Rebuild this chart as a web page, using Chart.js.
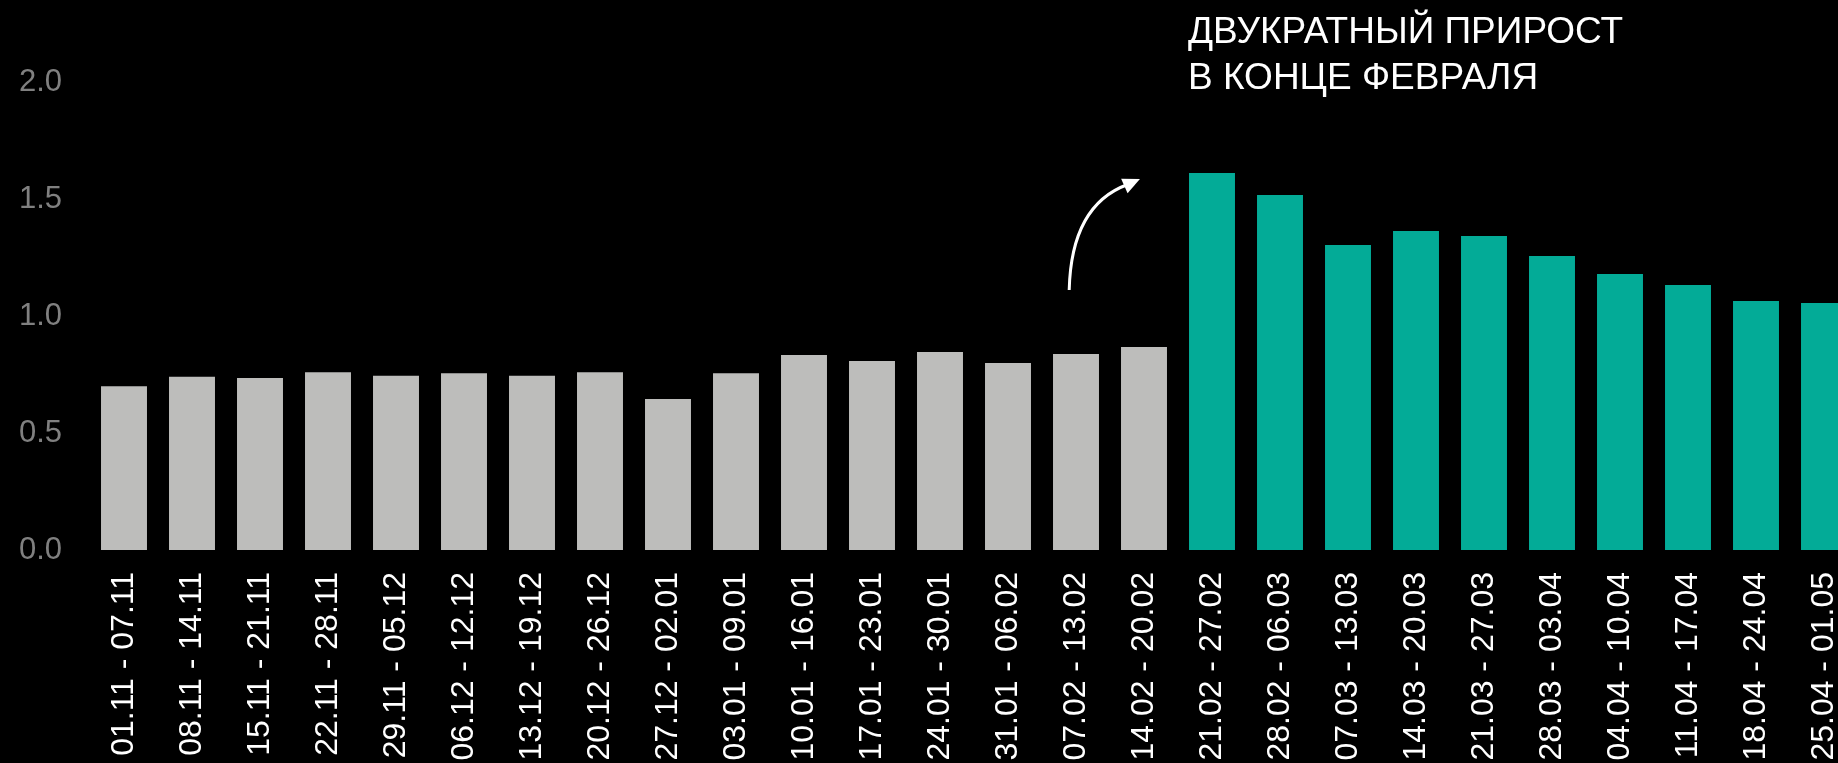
<!DOCTYPE html>
<html>
<head>
<meta charset="utf-8">
<script src="https://cdn.jsdelivr.net/npm/chart.js@4.4.1/dist/chart.umd.min.js"></script>
<style>
  html, body { margin: 0; padding: 0; background: #000; overflow: hidden; }
  #wrap { position: relative; width: 1862px; height: 763px; }
  canvas { display: block; }
</style>
</head>
<body>
<div id="wrap"><canvas id="c" width="1862" height="763" style="width:1862px;height:763px"></canvas></div>
<script>
// ---- data ----
const weeks = [
  "01.11 - 07.11","08.11 - 14.11","15.11 - 21.11","22.11 - 28.11","29.11 - 05.12",
  "06.12 - 12.12","13.12 - 19.12","20.12 - 26.12","27.12 - 02.01","03.01 - 09.01",
  "10.01 - 16.01","17.01 - 23.01","24.01 - 30.01","31.01 - 06.02","07.02 - 13.02",
  "14.02 - 20.02","21.02 - 27.02","28.02 - 06.03","07.03 - 13.03","14.03 - 20.03",
  "21.03 - 27.03","28.03 - 03.04","04.04 - 10.04","11.04 - 17.04","18.04 - 24.04",
  "25.04 - 01.05"
];
const values = [
  0.70, 0.74, 0.735, 0.76, 0.745, 0.755, 0.745, 0.76, 0.645, 0.755,
  0.833, 0.808, 0.846, 0.799, 0.838, 0.868,
  1.611, 1.517, 1.303, 1.363, 1.342, 1.256, 1.179, 1.132, 1.064, 1.056
];
const highlightFrom = 16; // first week of the surge (21.02 - 27.02)
const yTicks = [0, 0.5, 1.0, 1.5, 2.0];
const noteLines = ["ДВУКРАТНЫЙ ПРИРОСТ", "В КОНЦЕ ФЕВРАЛЯ"];

const GRAY = "#bdbdbb";
const GREEN = "#03ab97";
const FONT = "'Liberation Sans', Arial, sans-serif";

const bgPlugin = {
  id: "bg",
  beforeDraw(chart) {
    const ctx = chart.ctx;
    ctx.save();
    ctx.fillStyle = "#000";
    ctx.fillRect(0, 0, chart.width, chart.height);
    ctx.restore();
  }
};

const notePlugin = {
  id: "note",
  afterDraw(chart) {
    const ctx = chart.ctx;
    const xs = chart.scales.x, ys = chart.scales.y;
    const meta = chart.getDatasetMeta(0);
    const bar = meta.data[highlightFrom];
    const left = bar.x - bar.width / 2;
    const top = chart.chartArea.top;
    ctx.save();
    ctx.fillStyle = "#fff";
    ctx.font = "37px " + FONT;
    ctx.textAlign = "left";
    ctx.textBaseline = "alphabetic";
    ctx.fillText(noteLines[0], left - 1, top - 39);
    ctx.fillText(noteLines[1], left - 1, top + 7);

    // curved arrow (positioned in data space)
    const px = v => xs.getPixelForValue(v);
    const py = v => ys.getPixelForValue(v);
    const sx = px(13.90), sy = py(1.111);
    const cx = px(13.93), cy = py(1.474);
    const ex = px(14.76), ey = py(1.562);
    ctx.strokeStyle = "#fff";
    ctx.lineWidth = 3;
    ctx.beginPath();
    ctx.moveTo(sx, sy);
    ctx.quadraticCurveTo(cx, cy, ex, ey);
    ctx.stroke();
    // arrow head
    const tipX = px(14.94), tipY = py(1.585);
    const ang = Math.atan2(tipY - ey, tipX - ex);
    const L = 17, W = 8;
    ctx.beginPath();
    ctx.moveTo(tipX, tipY);
    ctx.lineTo(tipX - L * Math.cos(ang) + W * Math.sin(ang), tipY - L * Math.sin(ang) - W * Math.cos(ang));
    ctx.lineTo(tipX - L * Math.cos(ang) - W * Math.sin(ang), tipY - L * Math.sin(ang) + W * Math.cos(ang));
    ctx.closePath();
    ctx.fillStyle = "#fff";
    ctx.fill();
    ctx.restore();
  }
};

new Chart(document.getElementById("c"), {
  type: "bar",
  data: {
    labels: weeks,
    datasets: [{
      data: values,
      backgroundColor: values.map((v, i) => i >= highlightFrom ? GREEN : GRAY),
      borderWidth: 0,
      categoryPercentage: 1.0,
      barPercentage: 0.676
    }]
  },
  options: {
    responsive: false,
    maintainAspectRatio: false,
    animation: false,
    devicePixelRatio: 1,
    layout: { padding: { top: 82, left: 0, right: 4, bottom: 0 } },
    plugins: { legend: { display: false }, tooltip: { enabled: false } },
    scales: {
      x: {
        offset: true,
        grid: { display: false, drawTicks: false },
        border: { display: false },
        ticks: {
          color: "#ffffff",
          font: { family: FONT, size: 32 },
          autoSkip: false,
          maxRotation: 90,
          minRotation: 90,
          padding: 22
        },
        afterFit(s) { s.height = 213; s.paddingLeft = 0; s.paddingRight = 0; }
      },
      y: {
        min: 0,
        max: 2,
        afterBuildTicks(s) { s.ticks = yTicks.map(v => ({ value: v })); },
        grid: { display: false, drawTicks: false },
        border: { display: false },
        ticks: {
          color: "#808080",
          font: { family: FONT, size: 31 },
          padding: 28,
          callback: v => Number(v).toFixed(1)
        },
        afterFit(s) { s.width = 90; }
      }
    }
  },
  plugins: [bgPlugin, notePlugin]
});
</script>
</body>
</html>
